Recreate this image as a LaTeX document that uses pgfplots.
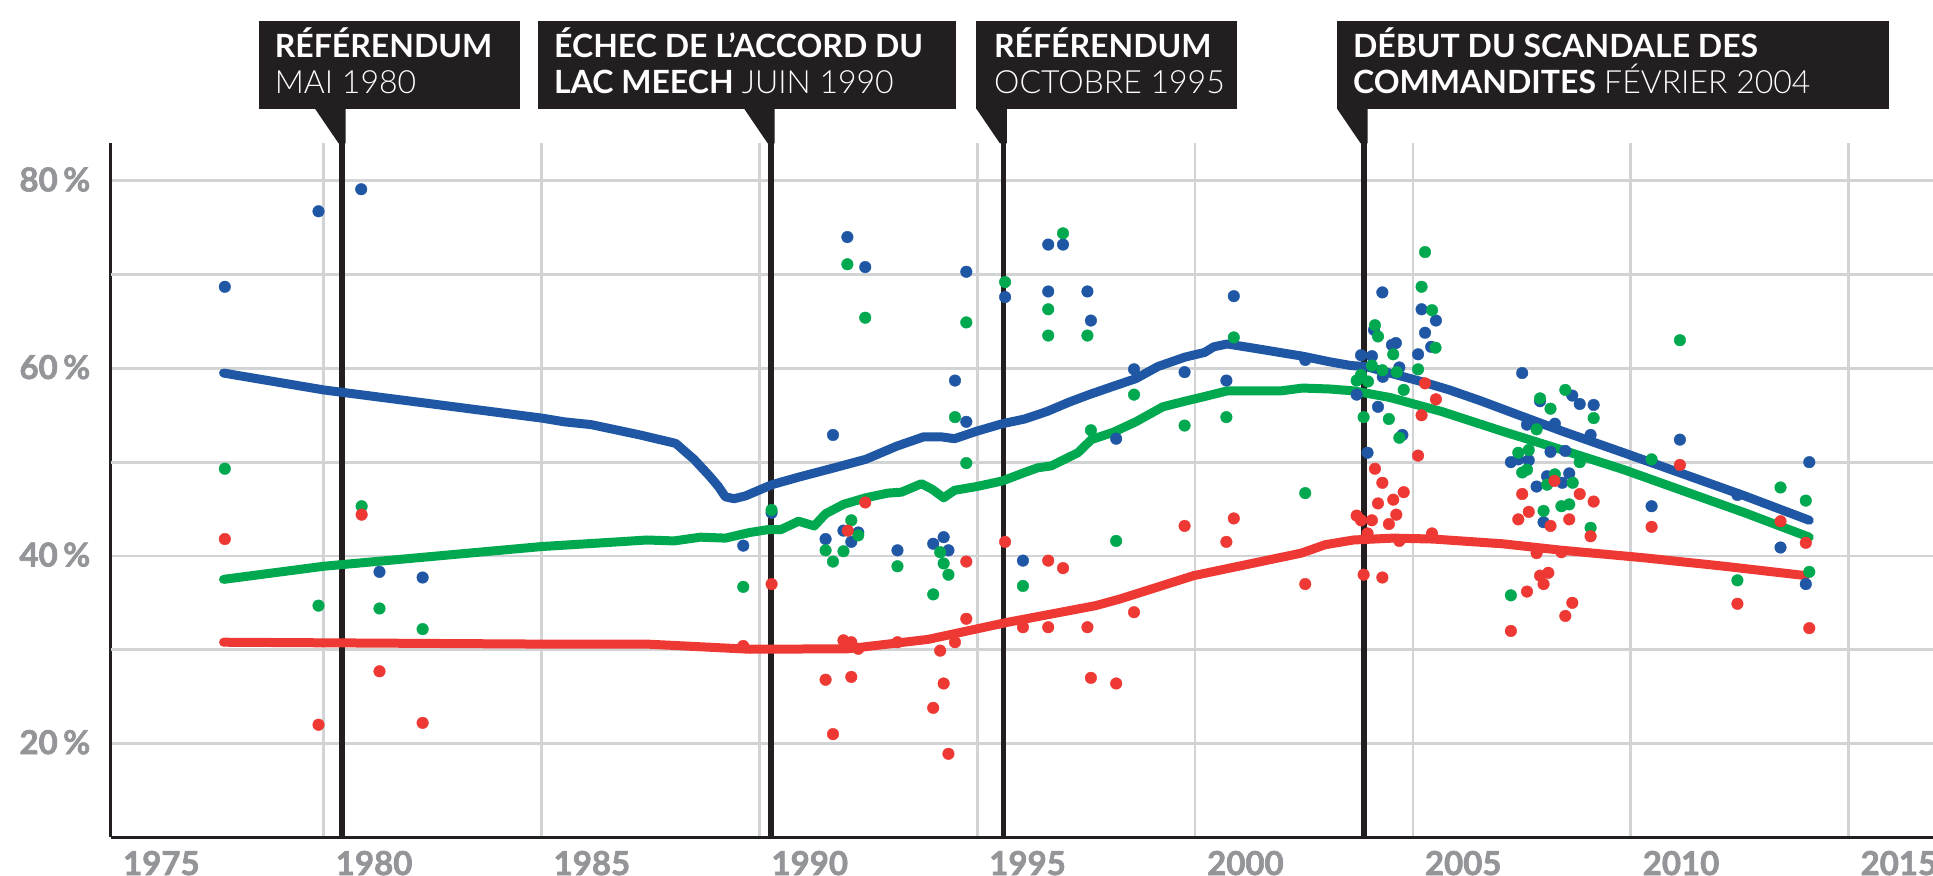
\documentclass[border=0pt]{standalone}
\usepackage{fontspec}
\setmainfont{Lato}
\newfontfamily\tickfontfam{Lato}[BoldFeatures={FakeBold=2}]
\newcommand\tickfont{\tickfontfam\bfseries}
\IfFontExistsTF{Lato Light}{\newfontfamily\lightfont{Lato Light}}{\newcommand\lightfont{}}
\usepackage{pgfplots}
\pgfplotsset{compat=1.18}
\definecolor{cblue}{HTML}{1F57A5}
\definecolor{cgreen}{HTML}{00A850}
\definecolor{cred}{HTML}{EE3833}
\definecolor{cgray}{HTML}{939598}
\definecolor{cgrid}{HTML}{D2D3D4}
\definecolor{cbox}{HTML}{231F20}
\newcommand{\boxfont}{\fontsize{16}{16}\selectfont}
\begin{document}
\begin{tikzpicture}
\begin{axis}[
 at={(55.35pt,19.35pt)}, anchor=south west,
 scale only axis, width=911.15pt, height=347pt,
 xmin=1975.11, xmax=2016.94, ymin=10, ymax=84,
 axis x line*=bottom, axis y line*=left,
 axis line style={line width=1.5pt, color=cbox},
 xtick={1980,1985,...,2015},
 xticklabels={1980,1985,1990,1995,2000,2005,2010,2015},
 ytick={20,40,60,80},
 yticklabels={20\,\%,40\,\%,60\,\%,80\,\%},
 extra y ticks={30,50,70}, extra y tick labels={},
 extra y tick style={grid=major},
 grid=major, grid style={line width=1.35pt, color=cgrid},
 major tick length=0pt,
 tick style={draw=none},
 tick label style={font=\fontsize{16.5}{16.5}\selectfont\tickfont, text=cgray, inner sep=0pt},
 xticklabel style={anchor=north west, xshift=5.85pt, yshift=-6.6pt},
 yticklabel style={anchor=east, xshift=-10pt, yshift=0.65pt},
 clip=false,
]
% event lines
\draw[cbox, line width=2.7pt] (axis cs:1980.42,10) -- (axis cs:1980.42,84);
\draw[cbox, line width=2.7pt] (axis cs:1990.27,10) -- (axis cs:1990.27,84);
\draw[cbox, line width=2.7pt] (axis cs:1995.60,10) -- (axis cs:1995.60,84);
\draw[cbox, line width=2.7pt] (axis cs:2003.88,10) -- (axis cs:2003.88,84);
% pointers
\fill[cbox] (axis cs:1979.80,87.69) -- (axis cs:1980.50,87.69) -- (axis cs:1980.50,84) -- (axis cs:1980.34,84) -- cycle;
\fill[cbox] (axis cs:1989.65,87.69) -- (axis cs:1990.35,87.69) -- (axis cs:1990.35,84) -- (axis cs:1990.19,84) -- cycle;
\fill[cbox] (axis cs:1994.98,87.69) -- (axis cs:1995.68,87.69) -- (axis cs:1995.68,84) -- (axis cs:1995.52,84) -- cycle;
\fill[cbox] (axis cs:2003.26,87.69) -- (axis cs:2003.96,87.69) -- (axis cs:2003.96,84) -- (axis cs:2003.80,84) -- cycle;
% boxes
\fill[cbox] (axis cs:1978.51,87.69) rectangle (axis cs:1984.51,97.04);
\fill[cbox] (axis cs:1984.92,87.69) rectangle (axis cs:1994.51,97.04);
\fill[cbox] (axis cs:1994.98,87.69) rectangle (axis cs:2000.97,97.04);
\fill[cbox] (axis cs:2003.26,87.69) rectangle (axis cs:2015.93,97.04);
\node[anchor=base west, inner sep=0pt, text=white, font=\boxfont] at (axis cs:1978.87,93.1) {\bfseries RÉFÉRENDUM};
\node[anchor=base west, inner sep=0pt, text=white, font=\boxfont] at (axis cs:1978.87,89.36) {\lightfont MAI 1980};
\node[anchor=base west, inner sep=0pt, text=white, font=\boxfont] at (axis cs:1985.28,93.1) {\bfseries ÉCHEC DE L’ACCORD DU};
\node[anchor=base west, inner sep=0pt, text=white, font=\boxfont] at (axis cs:1985.28,89.36) {\textbf{LAC MEECH} {\lightfont JUIN 1990}};
\node[anchor=base west, inner sep=0pt, text=white, font=\boxfont] at (axis cs:1995.38,93.1) {\bfseries RÉFÉRENDUM};
\node[anchor=base west, inner sep=0pt, text=white, font=\boxfont] at (axis cs:1995.38,89.36) {\lightfont OCTOBRE 1995};
\node[anchor=base west, inner sep=0pt, text=white, font=\boxfont] at (axis cs:2003.62,93.1) {\bfseries DÉBUT DU SCANDALE DES};
\node[anchor=base west, inner sep=0pt, text=white, font=\boxfont] at (axis cs:2003.62,89.36) {\textbf{COMMANDITES} {\lightfont FÉVRIER 2004}};
\node[anchor=north west, inner sep=0pt, text=cgray, font=\fontsize{16.5}{16.5}\selectfont\tickfont, xshift=6pt, yshift=-6.6pt] at (axis cs:1975.11,10) {1975};
% trend lines
\addplot[cred, line width=4.5pt, line cap=round, line join=round] coordinates {
(1977.70,30.8) (1985.0,30.6) (1987.42,30.6) (1989.78,30.05) (1992.03,30.1) (1993.87,31.1)
(1995.67,32.9) (1997.72,34.7) (1998.27,35.4) (1999.97,37.9) (2002.44,40.3) (2002.99,41.2)
(2003.64,41.7) (2004.55,41.9) (2005.47,41.8) (2007.05,41.3) (2008.43,40.6) (2010.31,39.8)
(2012.15,38.9) (2014.02,37.9)};
\addplot[cgreen, line width=4.5pt, line cap=round, line join=round] coordinates {
(1977.70,37.5) (1980.0,38.9) (1985.0,41.0) (1986.75,41.5) (1987.42,41.7) (1988.04,41.6)
(1988.65,42.0) (1989.22,41.9) (1989.78,42.5) (1990.19,42.8) (1990.49,42.8) (1990.90,43.7)
(1991.26,43.2) (1991.52,44.5) (1991.93,45.5) (1992.44,46.2) (1992.95,46.7) (1993.26,46.8)
(1993.72,47.7) (1993.97,47.1) (1994.23,46.2) (1994.48,47.0) (1994.99,47.4) (1995.58,48.0)
(1996.09,48.9) (1996.39,49.4) (1996.70,49.6) (1997.31,51.0) (1997.62,52.4) (1998.13,53.2)
(1998.64,54.3) (1999.26,55.9) (1999.77,56.5) (2000.22,57.0) (2000.74,57.6) (2001.35,57.6)
(2001.97,57.6) (2002.47,57.9) (2003.09,57.8) (2003.64,57.6) (2004.47,56.9) (2005.66,55.4)
(2007.05,53.3) (2008.43,51.3) (2009.84,49.2) (2011.23,46.9) (2012.62,44.6) (2014.10,42.0)};
\addplot[cblue, line width=4.5pt, line cap=round, line join=round] coordinates {
(1977.70,59.5) (1980.0,57.7) (1985.0,54.7) (1985.52,54.3) (1986.14,54.0) (1987.26,52.9)
(1988.08,52.0) (1988.50,50.3) (1988.86,48.5) (1989.06,47.4) (1989.22,46.3) (1989.42,46.1)
(1989.68,46.4) (1990.29,47.6) (1990.90,48.4) (1991.72,49.4) (1992.44,50.3) (1993.15,51.7)
(1993.77,52.7) (1994.17,52.7) (1994.48,52.5) (1994.99,53.3) (1995.58,54.1) (1996.09,54.6)
(1996.60,55.4) (1997.11,56.4) (1997.57,57.2) (1998.13,58.1) (1998.64,58.9) (1999.15,60.2)
(1999.77,61.2) (2000.22,61.7) (2000.43,62.3) (2000.74,62.6) (2001.15,62.3) (2001.55,62.0)
(2002.07,61.6) (2002.47,61.3) (2003.09,60.7) (2003.58,60.3) (2003.92,60.2) (2004.55,59.4)
(2005.19,58.6) (2005.84,57.7) (2006.58,56.5) (2007.50,54.9) (2008.43,53.3) (2009.84,51.0)
(2011.23,48.7) (2012.62,46.4) (2014.10,43.8)};
% polls
\addplot[cblue, only marks, mark=*, mark size=2.9pt, mark options={line width=0.2pt}] coordinates {
(1977.73,68.7) (1979.88,76.75) (1980.86,79.1) (1981.28,38.3) (1982.27,37.7)
(1989.63,41.1) (1990.28,44.6) (1991.52,41.8) (1991.69,52.9) (1991.93,42.7) (1992.02,74.0)
(1992.11,41.5) (1992.27,42.5) (1992.43,70.8) (1993.17,40.6) (1993.99,41.3) (1994.23,42.0)
(1994.34,40.6) (1994.49,58.7) (1994.75,70.3) (1994.75,54.3) (1995.64,67.6) (1996.05,39.5)
(1996.63,73.2) (1996.63,68.2) (1996.97,73.2) (1997.53,68.2) (1997.61,65.1) (1998.19,52.5)
(1998.60,59.9) (1999.76,59.6) (2000.72,58.7) (2000.89,67.7) (2002.53,60.9)
(2003.71,57.2) (2003.81,61.4) (2003.96,51.0) (2004.06,61.3) (2004.11,64.1) (2004.20,55.9)
(2004.30,68.1) (2004.31,59.1) (2004.52,62.5) (2004.61,62.7) (2004.69,60.1) (2004.76,52.9)
(2005.12,61.5) (2005.20,66.3) (2005.28,63.8) (2005.42,62.3) (2005.53,65.1)
(2007.25,50.0) (2007.42,50.3) (2007.51,59.5) (2007.62,54.0) (2007.66,50.2) (2007.84,47.4)
(2007.92,56.5) (2008.00,43.6) (2008.08,48.5) (2008.16,51.1) (2008.26,54.1) (2008.43,47.8)
(2008.50,51.2) (2008.59,48.8) (2008.66,57.1) (2008.83,56.2) (2009.08,52.9) (2009.15,56.1)
(2010.48,45.3) (2011.13,52.4) (2012.45,46.5) (2013.44,40.9) (2014.02,37.0) (2014.10,50.0)};
\addplot[cgreen, only marks, mark=*, mark size=2.9pt, mark options={line width=0.2pt}] coordinates {
(1977.73,49.3) (1979.88,34.7) (1980.87,45.3) (1981.28,34.4) (1982.27,32.2)
(1989.63,36.7) (1990.28,44.9) (1991.52,40.6) (1991.69,39.4) (1991.93,40.5) (1992.02,71.1)
(1992.11,43.8) (1992.27,42.2) (1992.43,65.4) (1993.17,38.9) (1993.99,35.9) (1994.15,40.4)
(1994.23,39.2) (1994.34,38.0) (1994.49,54.8) (1994.75,64.9) (1994.75,49.9) (1995.64,69.2)
(1996.05,36.8) (1996.63,66.3) (1996.63,63.5) (1996.97,74.4) (1997.53,63.5) (1997.61,53.4)
(1998.19,41.6) (1998.60,57.2) (1999.76,53.9) (2000.72,54.8) (2000.89,63.3) (2002.53,46.7)
(2003.71,58.7) (2003.81,59.3) (2003.87,54.8) (2003.97,58.6) (2004.06,60.3) (2004.13,64.6)
(2004.20,63.4) (2004.30,59.8) (2004.45,54.6) (2004.55,61.5) (2004.63,59.6) (2004.69,52.6)
(2004.79,57.7) (2005.12,59.9) (2005.20,68.7) (2005.28,72.4) (2005.44,66.2) (2005.52,62.2)
(2007.25,35.8) (2007.42,51.0) (2007.51,48.9) (2007.62,49.2) (2007.66,51.3) (2007.84,53.5)
(2007.92,56.8) (2008.00,44.8) (2008.08,47.6) (2008.16,55.7) (2008.26,48.7) (2008.41,45.3)
(2008.50,57.7) (2008.59,45.5) (2008.67,47.8) (2008.83,50.0) (2009.08,43.0) (2009.15,54.7)
(2010.48,50.3) (2011.13,63.0) (2012.45,37.4) (2013.44,47.3) (2014.02,45.9) (2014.10,38.3)};
\addplot[cred, only marks, mark=*, mark size=2.9pt, mark options={line width=0.2pt}] coordinates {
(1977.73,41.8) (1979.88,22.0) (1980.87,44.4) (1981.28,27.7) (1982.27,22.2)
(1989.63,30.4) (1990.28,37.0) (1991.52,26.8) (1991.69,21.0) (1991.93,31.0) (1992.03,42.7)
(1992.11,30.8) (1992.11,27.1) (1992.27,30.1) (1992.43,45.7) (1993.17,30.8) (1993.99,23.8)
(1994.15,29.9) (1994.23,26.4) (1994.34,18.9) (1994.49,30.8) (1994.75,39.4) (1994.75,33.3)
(1995.64,41.5) (1996.05,32.4) (1996.63,39.5) (1996.63,32.4) (1996.97,38.7) (1997.53,32.4)
(1997.61,27.0) (1998.19,26.4) (1998.60,34.0) (1999.76,43.2) (2000.72,41.5) (2000.89,44.0)
(2002.53,37.0) (2003.71,44.3) (2003.81,43.8) (2003.87,38.0) (2003.96,42.4) (2004.06,43.8)
(2004.13,49.3) (2004.20,45.6) (2004.30,47.8) (2004.30,37.7) (2004.45,43.4) (2004.55,46.0)
(2004.62,44.4) (2004.69,41.6) (2004.79,46.8) (2005.12,50.7) (2005.20,55.0) (2005.28,58.4)
(2005.44,42.4) (2005.53,56.7) (2007.25,32.0) (2007.42,43.9) (2007.51,46.6) (2007.62,36.2)
(2007.66,44.7) (2007.84,40.3) (2007.92,37.9) (2008.00,37.0) (2008.11,38.2) (2008.16,43.2)
(2008.25,48.0) (2008.41,40.4) (2008.50,33.6) (2008.59,43.9) (2008.66,35.0) (2008.83,46.6)
(2009.08,42.1) (2009.15,45.8) (2010.48,43.1) (2011.13,49.7) (2012.45,34.9) (2013.44,43.7)
(2014.02,41.4) (2014.10,32.3)};
\end{axis}
\pgfresetboundingbox
\useasboundingbox (0,0) rectangle (966.5pt,438pt);
\end{tikzpicture}
\end{document}
